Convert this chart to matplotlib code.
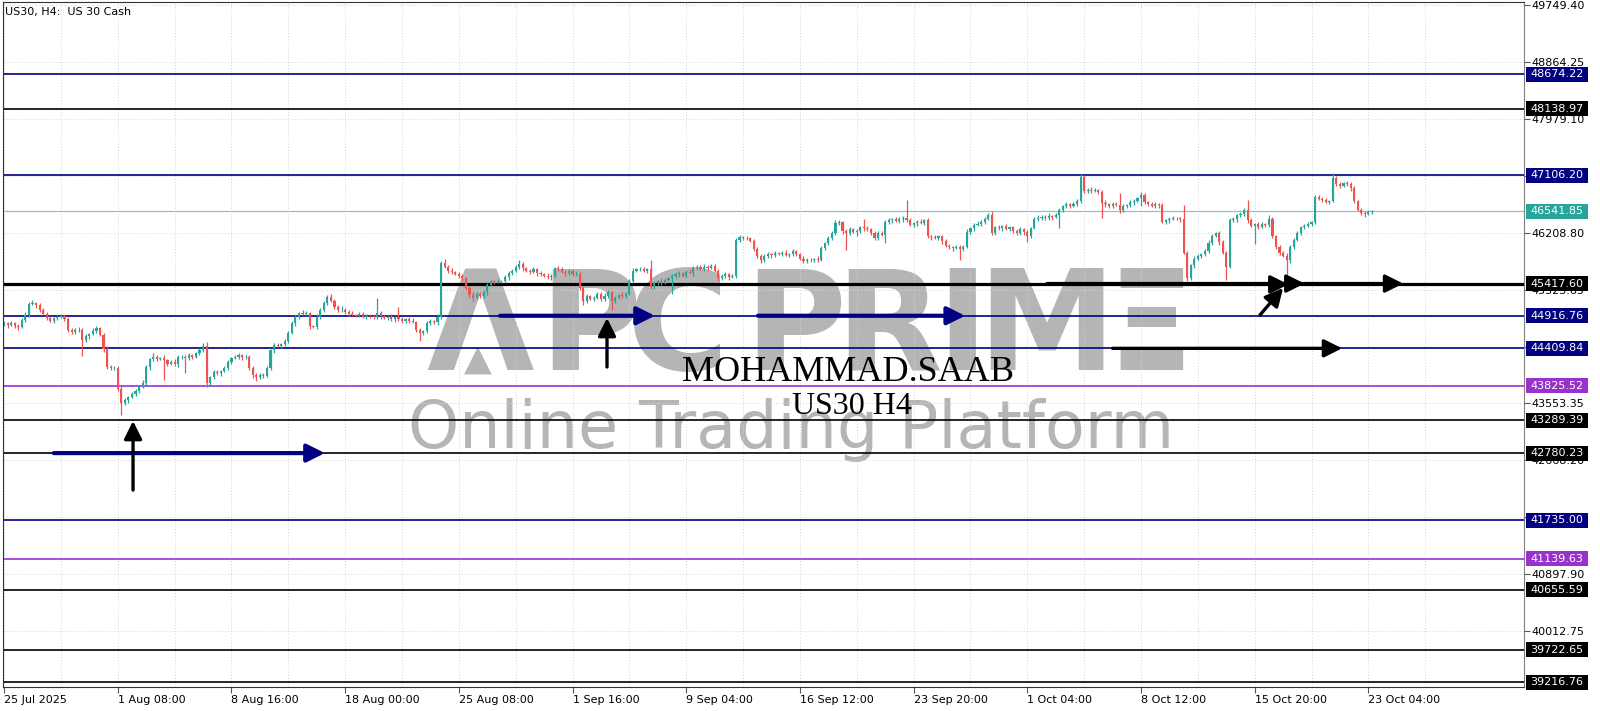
import numpy as np
import matplotlib
matplotlib.use("Agg")
import matplotlib.pyplot as plt
from matplotlib.patches import Rectangle
from matplotlib.transforms import blended_transform_factory

#%% --- Data ---

# H4 closes, one per bar, starting 25 Jul 2025
closes = [
    44800, 44770, 44800, 44760, 44740, 44850, 44930, 45100, 45110, 45080, 45010, 44950, 44880, 44840, 44880, 44900, 44910, 44860, 44700, 44660,
    44690, 44700, 44540, 44600, 44630, 44680, 44720, 44620, 44400, 44120, 44100, 44110, 43780, 43560, 43600, 43650, 43700, 43750, 43820, 43870,
    44120, 44240, 44270, 44250, 44260, 44230, 44170, 44200, 44160, 44270, 44280, 44260, 44300, 44280, 44330, 44380, 44450, 43870, 43960, 44040,
    44020, 44060, 44110, 44200, 44260, 44280, 44300, 44270, 44280, 44100, 43990, 43960, 44000, 43980, 44100, 44380, 44460, 44450, 44470, 44520,
    44650, 44800, 44900, 44960, 44950, 44960, 44750, 44740, 44900, 45000, 45120, 45210, 45150, 45060, 45000, 45010, 44980, 44950, 44930, 44920,
    44940, 44900, 44920, 44910, 44890, 44960, 44910, 44880, 44900, 44860, 44900, 44870, 44830, 44860, 44840, 44820, 44700, 44650, 44680, 44800,
    44830, 44820, 44900, 45740, 45680, 45620, 45600, 45570, 45540, 45500, 45350, 45240, 45200, 45260, 45220, 45280, 45400, 45450, 45440, 45460,
    45450, 45520, 45580, 45620, 45680, 45720, 45660, 45620, 45600, 45640, 45580, 45560, 45540, 45520, 45530, 45660, 45640, 45600, 45580, 45620,
    45560, 45570, 45350, 45150, 45220, 45180, 45200, 45260, 45170, 45230, 45280, 45150, 45200, 45240, 45230, 45260, 45460, 45620, 45640, 45650,
    45620, 45640, 45360, 45420, 45460, 45440, 45480, 45500, 45540, 45560, 45580, 45540, 45600, 45580, 45660, 45680, 45650, 45680, 45660, 45690,
    45620, 45500, 45540, 45560, 45520, 45540, 46090, 46140, 46130, 46120, 46080, 45950, 45850, 45790, 45840, 45870, 45860, 45890, 45880, 45900,
    45860, 45880, 45920, 45870, 45800, 45770, 45790, 45780, 45800, 45790, 45970, 46050, 46130, 46200, 46360, 46370, 46230, 46200, 46260, 46220,
    46240, 46300, 46280, 46260, 46200, 46130, 46210, 46180, 46380, 46400, 46420, 46390, 46420, 46440, 46400, 46330, 46360, 46380, 46360, 46400,
    46160, 46140, 46130, 46150, 46080, 46000, 45980, 45970, 45990, 45950, 45990, 46220, 46280, 46330, 46350, 46380, 46420, 46480, 46200, 46300,
    46280, 46310, 46270, 46290, 46240, 46200, 46260, 46220, 46160, 46280, 46420, 46440, 46460, 46430, 46470, 46450, 46480, 46560, 46620, 46650,
    46630, 46660, 46700, 47080, 46850, 46880, 46860, 46870, 46840, 46670, 46650, 46620, 46660, 46640, 46560, 46620, 46640, 46680, 46700, 46750,
    46800, 46680, 46660, 46630, 46650, 46640, 46380, 46400, 46420, 46440, 46430, 46420, 45900, 45500, 45700, 45800, 45840, 45880, 45920, 46050,
    46160, 46200, 46060, 45900, 45680, 46400, 46420, 46480, 46500, 46560, 46400, 46320, 46340, 46300, 46340, 46330, 46420, 46150, 45980, 45900,
    45850, 45780, 45990, 46100, 46200, 46300, 46320, 46340, 46370, 46760, 46740, 46720, 46690, 46700, 47060, 46960, 46940, 46980, 46960, 46900,
    46700, 46560, 46520, 46500, 46530, 46542,
]
first_open = 44780

# upper / lower wick lengths above / below each body (points)
wick_up = [
    30, 20, 40, 20, 30, 30, 40, 30, 50, 20, 30, 20, 30, 40, 20, 30, 30, 20, 30, 20,
    30, 40, 20, 30, 20, 40, 30, 20, 30, 40, 30, 20, 30, 40, 30, 20, 30, 30, 20, 40,
    30, 20, 60, 30, 20, 40, 20, 30, 40, 30, 20, 30, 40, 20, 30, 30, 40, 60, 20, 30,
    40, 20, 30, 30, 20, 30, 40, 20, 30, 20, 30, 40, 20, 30, 30, 20, 40, 30, 20, 30,
    30, 40, 30, 20, 40, 30, 20, 30, 40, 30, 20, 30, 40, 20, 30, 60, 20, 30, 40, 20,
    30, 40, 20, 30, 20, 240, 30, 20, 30, 40, 20, 150, 30, 20, 30, 40, 20, 30, 20, 30,
    30, 20, 40, 30, 60, 30, 40, 20, 30, 30, 20, 30, 40, 20, 30, 40, 20, 30, 20, 30,
    20, 30, 40, 30, 20, 60, 30, 20, 30, 40, 20, 30, 20, 40, 30, 20, 30, 40, 30, 20,
    30, 40, 20, 30, 40, 20, 30, 20, 30, 40, 30, 20, 30, 20, 40, 30, 30, 40, 20, 30,
    30, 20, 145, 30, 20, 40, 30, 20, 30, 40, 30, 20, 30, 40, 30, 20, 30, 40, 20, 30,
    30, 20, 30, 40, 20, 30, 40, 30, 20, 30, 20, 30, 40, 20, 30, 40, 20, 30, 20, 30,
    40, 20, 30, 20, 30, 40, 20, 30, 20, 40, 30, 20, 30, 30, 40, 30, 20, 30, 40, 20,
    30, 20, 120, 30, 20, 40, 30, 20, 30, 40, 20, 30, 40, 30, 280, 30, 20, 30, 40, 20,
    30, 20, 40, 30, 20, 30, 40, 20, 30, 20, 30, 40, 20, 30, 40, 20, 30, 40, 70, 20,
    30, 20, 40, 30, 20, 30, 40, 20, 30, 20, 30, 40, 20, 30, 40, 20, 30, 40, 20, 30,
    20, 30, 40, 40, 30, 20, 40, 30, 20, 30, 40, 20, 30, 20, 180, 30, 20, 30, 40, 20,
    40, 30, 20, 30, 40, 20, 30, 20, 40, 30, 20, 30, 220, 30, 20, 40, 30, 20, 30, 40,
    30, 20, 40, 30, 20, 30, 40, 20, 30, 40, 160, 30, 20, 30, 40, 20, 60, 30, 20, 30,
    30, 40, 20, 30, 40, 20, 30, 40, 20, 30, 40, 20, 30, 20, 80, 30, 40, 20, 30, 40,
    30, 20, 30, 20, 30, 20,
]
wick_dn = [
    30, 40, 20, 30, 50, 20, 30, 30, 20, 40, 30, 20, 30, 20, 40, 30, 20, 30, 40, 20,
    30, 20, 250, 30, 40, 20, 30, 20, 40, 30, 20, 30, 40, 190, 30, 40, 20, 30, 40, 20,
    30, 40, 20, 30, 20, 310, 40, 20, 30, 40, 20, 230, 30, 40, 20, 30, 20, 60, 40, 20,
    30, 40, 20, 30, 40, 20, 30, 40, 20, 30, 40, 60, 20, 30, 20, 30, 40, 20, 30, 20,
    30, 20, 40, 30, 20, 30, 40, 20, 30, 40, 20, 30, 20, 40, 30, 20, 30, 40, 20, 30,
    30, 20, 40, 30, 20, 30, 40, 20, 30, 20, 40, 30, 20, 30, 40, 20, 30, 130, 40, 30,
    20, 30, 40, 30, 20, 40, 30, 20, 30, 40, 30, 40, 60, 30, 20, 30, 40, 20, 30, 20,
    30, 20, 40, 30, 20, 30, 40, 20, 30, 20, 40, 30, 20, 30, 40, 20, 30, 20, 40, 30,
    20, 30, 40, 60, 30, 20, 40, 30, 20, 30, 40, 150, 30, 20, 30, 40, 20, 30, 20, 30,
    30, 40, 20, 30, 20, 40, 30, 20, 250, 30, 40, 20, 30, 20, 40, 30, 20, 30, 40, 20,
    30, 40, 20, 30, 40, 20, 30, 20, 40, 30, 20, 30, 40, 60, 30, 20, 40, 30, 20, 30,
    20, 30, 40, 30, 20, 40, 30, 20, 30, 40, 20, 30, 40, 30, 20, 30, 40, 260, 30, 20,
    60, 30, 40, 30, 20, 30, 40, 20, 130, 30, 40, 20, 30, 40, 30, 20, 30, 40, 20, 30,
    30, 40, 20, 30, 40, 20, 30, 40, 20, 160, 30, 20, 30, 40, 20, 30, 40, 20, 30, 20,
    30, 40, 20, 30, 40, 20, 30, 40, 100, 30, 20, 30, 40, 20, 30, 40, 20, 200, 30, 20,
    30, 20, 40, 30, 20, 30, 40, 20, 30, 230, 40, 20, 30, 20, 40, 30, 20, 30, 40, 20,
    120, 30, 40, 20, 30, 40, 20, 30, 40, 20, 30, 40, 20, 50, 30, 40, 20, 30, 40, 20,
    30, 20, 40, 30, 200, 20, 30, 40, 20, 30, 40, 30, 280, 30, 20, 40, 30, 20, 30, 40,
    20, 230, 40, 30, 20, 30, 40, 20, 30, 20, 30, 40, 20, 30, 20, 30, 40, 20, 30, 40,
    30, 20, 30, 40, 20, 30,
]

# horizontal levels drawn on the chart
level_prices = [48674.22, 48138.97, 47106.20, 46541.85, 45417.60, 44916.76, 44409.84,
                43825.52, 43289.39, 42780.23, 41735.00, 41139.63, 40655.59, 39722.65, 39216.76]
level_kinds = ["navy", "black", "navy", "price", "black", "navy", "navy",
               "purple", "black", "black", "navy", "purple", "black", "black", "black"]

# price scale ticks
y_ticks = [49749.40, 48864.25, 47979.10, 47093.95, 46208.80, 45323.65, 44438.50,
           43553.35, 42668.20, 41783.05, 40897.90, 40012.75]

# date scale
date_bars = [0, 32, 64, 96, 128, 160, 192, 224, 256, 288, 320, 352, 384]
date_labels = ["25 Jul 2025", "1 Aug 08:00", "8 Aug 16:00", "18 Aug 00:00", "25 Aug 08:00",
               "1 Sep 16:00", "9 Sep 04:00", "16 Sep 12:00", "23 Sep 20:00", "1 Oct 04:00",
               "8 Oct 12:00", "15 Oct 20:00", "23 Oct 04:00"]

# hand-drawn arrows (bar index, price)
arrow_x0 = [14.0, 36.3, 139.6, 169.7, 212.2, 362.0, 310.4, 293.5, 353.5, 312.0]
arrow_y0 = [42780.23, 42206, 44916.76, 44120, 44916.76, 45417.60, 45405, 45417.60, 44929, 44409.84]
arrow_x1 = [90.3, 36.3, 183.2, 169.7, 270.5, 393.8, 361.5, 366.0, 360.0, 376.6]
arrow_y1 = [42780.23, 43280, 44916.76, 44882, 44916.76, 45417.60, 45405, 45417.60, 45349, 44409.84]
arrow_kinds = ["navy", "black", "navy", "black", "navy", "black", "black", "black", "black", "black"]

#%% --- Prepare data ---

closes = np.array(closes, dtype=float)
opens = np.concatenate([[first_open], closes[:-1]])
highs = np.maximum(opens, closes) + np.array(wick_up)
lows = np.minimum(opens, closes) - np.array(wick_dn)
bars = np.arange(len(closes))
up = closes >= opens

line_colors = {"navy": "#000080", "black": "#000000", "price": "#80cbc4", "purple": "#9b30d9"}
box_colors = {"navy": "#000080", "black": "#000000", "price": "#26a69a", "purple": "#9932cc"}
bull, bear = "#26a69a", "#ef5350"

#%% --- Visualize ---

W, H = 1600, 711
fig = plt.figure(figsize=(W / 100, H / 100), dpi=100)
ax = fig.add_axes([3 / W, 24 / H, 1521 / W, 685 / H])
ax.set_xlim(-0.3, 427.8)
ax.set_ylim(39141.7, 49797.6)
px_price = (49797.6 - 39141.7) / 685  # price per pixel

# watermark (behind everything)
wm_color = "#b5b5b5"
letters = ["Λ", "P", "C", "P", "R", "I", "M", "Ξ"]
letter_x = [480, 590, 677, 795, 889, 962, 1046, 1150]
for ch, lx in zip(letters, letter_x):
    ax.text(lx / W, (H - 370) / H, ch, transform=fig.transFigure, ha="center",
            va="baseline", fontsize=100, fontweight="bold", color=wm_color, zorder=0.3)
ax.text(478 / W, (H - 370) / H, "▲", transform=fig.transFigure, ha="center",
        va="baseline", fontsize=26, color=wm_color, zorder=0.3)
ax.text(408 / W, (H - 448) / H, "Online Trading Platform", transform=fig.transFigure,
        ha="left", va="baseline", fontsize=47, color=wm_color, zorder=0.3)

# grid
ax.set_axisbelow(True)
ax.grid(True, which="both", linestyle=(0, (1, 2)), color="#d4d4d4", linewidth=0.7)

# candles
colors = np.where(up, bull, bear)
ax.vlines(bars, lows, highs, colors=colors, linewidth=0.9, zorder=2)
ax.bar(bars, np.maximum(np.abs(closes - opens), 10), bottom=np.minimum(opens, closes),
       width=0.6, color=colors, linewidth=0, zorder=2.1)

# levels with price boxes on the scale
trans = blended_transform_factory(ax.transAxes, ax.transData)
box_x0, box_w = 2 / 1521, 62 / 1521
for price, kind in zip(level_prices, level_kinds):
    lw = 2.3 if price == 45417.60 else (0.9 if kind == "price" else 1.2)
    ax.axhline(price, color=line_colors[kind], linewidth=lw, zorder=1.5)
    ax.add_patch(Rectangle((1 + box_x0, price - 7.5 * px_price), box_w, 15 * px_price,
                           transform=trans, facecolor=box_colors[kind], edgecolor="none",
                           clip_on=False, zorder=4))
    ax.text(1 + box_x0 + box_w / 2, price, f"{price:.2f}", transform=trans, ha="center",
            va="center", fontsize=8, color="white", zorder=5, clip_on=False)

# arrows
for x0, y0, x1, y1, kind in zip(arrow_x0, arrow_y0, arrow_x1, arrow_y1, arrow_kinds):
    lw = 3.0 if kind == "navy" else 2.4
    ax.annotate("", xy=(x1, y1), xytext=(x0, y0),
                arrowprops=dict(arrowstyle="-|>,head_length=0.6,head_width=0.3",
                                color=line_colors[kind], lw=lw, mutation_scale=18,
                                shrinkA=0, shrinkB=0), zorder=3)

# signature
ax.text(848 / W, (H - 381) / H, "MOHAMMAD.SAAB", transform=fig.transFigure, ha="center",
        va="baseline", fontsize=26, family="Liberation Serif", color="black", zorder=4)
ax.text(852 / W, (H - 414) / H, "US30 H4", transform=fig.transFigure, ha="center",
        va="baseline", fontsize=23, family="Liberation Serif", color="black", zorder=4)

# header
ax.text(5 / W, (H - 15) / H, "US30, H4:  US 30 Cash", transform=fig.transFigure,
        ha="left", va="baseline", fontsize=8, color="black", zorder=5)

# axes
ax.yaxis.tick_right()
ax.set_yticks(y_ticks)
ax.set_yticklabels([f"{t:.2f}" for t in y_ticks])
ax.tick_params(axis="y", direction="out", length=4, width=0.8, color="#555555",
               labelsize=8, pad=1)
ax.set_xticks(date_bars)
ax.set_xticklabels(date_labels, ha="left")
ax.set_xticks(np.arange(16, 428, 32), minor=True)
ax.tick_params(axis="x", which="major", direction="out", length=4, width=0.8,
               color="#555555", labelsize=8, pad=2)
ax.tick_params(axis="x", which="minor", length=0)
for side in ["left", "top", "bottom"]:
    ax.spines[side].set_color("#333333")
ax.spines["right"].set_color("#808080")

fig.savefig("out.png", dpi=100)
